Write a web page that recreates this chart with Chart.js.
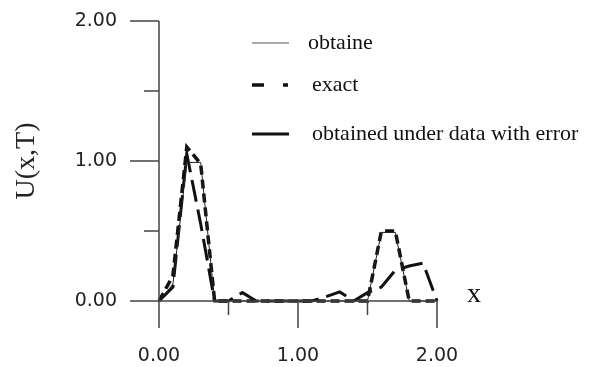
<!DOCTYPE html>
<html>
<head>
<meta charset="utf-8">
<script src="https://cdn.jsdelivr.net/npm/chart.js@4"></script>
<style>
  html, body { margin: 0; padding: 0; background: #fff; }
  #wrap { width: 590px; height: 367px; position: relative; }
</style>
</head>
<body>
<div id="wrap"><canvas id="chart" width="590" height="367"></canvas></div>
<script>
// x positions of the computed solution
const xValues = [0, 0.1, 0.2, 0.3, 0.4, 0.5, 0.6, 0.7, 0.8, 0.9, 1.0,
                 1.1, 1.2, 1.3, 1.4, 1.5, 1.6, 1.7, 1.8, 1.9, 2.0]

// U(x,T) for each series
const obtained = [0, 0.12, 0.99, 0.99, 0, 0, 0, 0, 0, 0, 0,
                  0, 0, 0, 0, 0, 0.49, 0.49, 0, 0, 0]
const exact = [0, 0.18, 1.1, 0.98, 0, 0, 0, 0, 0, 0, 0,
               0, 0, 0, 0, 0, 0.5, 0.5, 0, 0, 0]
const withError = [0, 0.1, 1.05, 0.55, 0, 0, 0.06, 0, 0, 0, 0,
                   0, 0.03, 0.065, 0, 0.06, 0.1, 0.22, 0.25, 0.27, 0]

const seriesLabels = ['obtaine', 'exact', 'obtained under data with error']

const majorTicks = [0, 1, 2]
const minorTicks = [0.5, 1.5]

const toPoints = ys => xValues.map((x, i) => ({ x, y: ys[i] }))

const ink = '#111'
const axisColor = '#444'

// legend sample styles (dash, width) in the same order as the labels
const legendStyles = [
    { dash: [], width: 1, color: '#555' },
    { dash: [12, 19, 5, 10], width: 3.5, color: ink },
    { dash: [], width: 3, color: ink }
]

const axesPlugin = {
    id: 'axesPlugin',
    afterDraw(chart) {
        const { ctx, chartArea, scales } = chart
        const xs = scales.x
        const ys = scales.y
        ctx.save()
        ctx.strokeStyle = axisColor
        ctx.lineWidth = 1.5
        ctx.beginPath()
        // axis lines
        ctx.moveTo(chartArea.left, chartArea.top)
        ctx.lineTo(chartArea.left, chartArea.bottom)
        ctx.moveTo(chartArea.left, chartArea.bottom)
        ctx.lineTo(chartArea.right, chartArea.bottom)
        // y ticks
        majorTicks.forEach(v => {
            const py = ys.getPixelForValue(v)
            ctx.moveTo(chartArea.left - 29, py)
            ctx.lineTo(chartArea.left, py)
        })
        minorTicks.forEach(v => {
            const py = ys.getPixelForValue(v)
            ctx.moveTo(chartArea.left - 15, py)
            ctx.lineTo(chartArea.left, py)
        })
        // x ticks
        majorTicks.forEach(v => {
            const px = xs.getPixelForValue(v)
            ctx.moveTo(px, chartArea.bottom)
            ctx.lineTo(px, chartArea.bottom + 27)
        })
        minorTicks.forEach(v => {
            const px = xs.getPixelForValue(v)
            ctx.moveTo(px, chartArea.bottom)
            ctx.lineTo(px, chartArea.bottom + 14)
        })
        ctx.stroke()

        // x axis title
        ctx.fillStyle = ink
        ctx.font = '28px "Liberation Serif"'
        ctx.textAlign = 'center'
        ctx.textBaseline = 'alphabetic'
        ctx.fillText('x', chartArea.right + 37, chartArea.bottom + 1)

        // legend
        ctx.font = '22px "Liberation Serif"'
        ctx.textAlign = 'left'
        ctx.textBaseline = 'middle'
        const rows = [43, 85, 134]
        seriesLabels.forEach((label, i) => {
            const st = legendStyles[i]
            ctx.strokeStyle = st.color
            ctx.lineWidth = st.width
            ctx.setLineDash(st.dash)
            ctx.beginPath()
            ctx.moveTo(252, rows[i])
            ctx.lineTo(289, rows[i])
            ctx.stroke()
            ctx.setLineDash([])
            ctx.fillText(label, i === 0 ? 308 : 312, rows[i])
        })
        ctx.restore()
    }
}

new Chart(document.getElementById('chart'), {
    type: 'line',
    data: {
        datasets: [
            {
                label: seriesLabels[0],
                data: toPoints(obtained),
                borderColor: '#222',
                borderWidth: 1,
                pointRadius: 0,
                tension: 0
            },
            {
                label: seriesLabels[1],
                data: toPoints(exact),
                borderColor: ink,
                borderWidth: 3.5,
                borderDash: [9, 5],
                pointRadius: 0,
                tension: 0
            },
            {
                label: seriesLabels[2],
                data: toPoints(withError),
                borderColor: ink,
                borderWidth: 3,
                borderDash: [22, 8],
                pointRadius: 0,
                tension: 0
            }
        ]
    },
    options: {
        responsive: false,
        animation: false,
        clip: false,
        layout: { padding: { top: 21, right: 153, left: 0, bottom: 0 } },
        plugins: {
            legend: { display: false },
            tooltip: { enabled: false }
        },
        scales: {
            x: {
                type: 'linear',
                min: 0,
                max: 2,
                grid: { display: false, drawTicks: false },
                border: { display: false },
                ticks: {
                    stepSize: 1,
                    padding: 44,
                    color: '#222',
                    font: { family: '"DejaVu Sans"', size: 19 },
                    callback: v => v.toFixed(2),
                    maxRotation: 0
                },
                afterFit: s => {
                    s.height = 66
                    s.paddingLeft = 0
                    s.paddingRight = 0
                }
            },
            y: {
                min: 0,
                max: 2,
                grid: { display: false, drawTicks: false },
                border: { display: false },
                ticks: {
                    stepSize: 1,
                    padding: 42,
                    color: '#222',
                    font: { family: '"DejaVu Sans"', size: 19 },
                    callback: v => v.toFixed(2)
                },
                title: {
                    display: true,
                    text: 'U(x,T)',
                    color: '#222',
                    font: { family: '"Liberation Serif"', size: 28 },
                    padding: { top: 10, bottom: 0 }
                },
                afterFit: s => {
                    s.width = 159
                    s.paddingTop = 0
                    s.paddingBottom = 0
                }
            }
        }
    },
    plugins: [axesPlugin]
})
</script>
</body>
</html>
